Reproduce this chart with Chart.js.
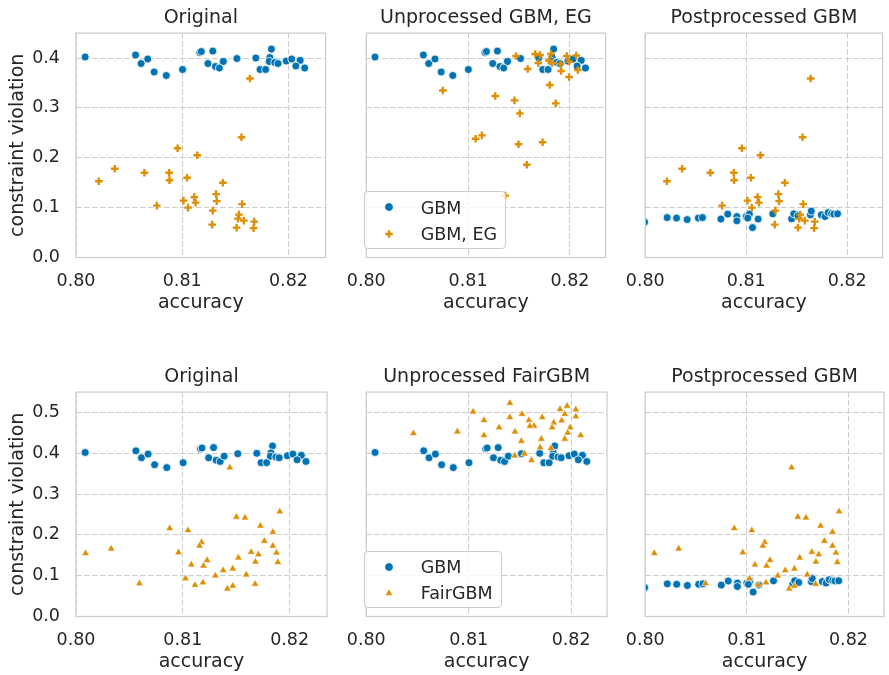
<!DOCTYPE html>
<html>
<head>
<meta charset="utf-8">
<script src="https://cdn.jsdelivr.net/npm/chart.js@4.4.0/dist/chart.umd.min.js"></script>
<style>
  body { margin: 0; width: 889px; height: 675px; overflow: hidden; position: relative; background: #fff; font-family: 'DejaVu Sans', sans-serif; color: #262626; }
  canvas { position: absolute; }
  .legend { position: absolute; box-sizing: border-box; height: 57.6px; border: 1px solid #cccccc; border-radius: 4px; background: rgba(255,255,255,0.8); }
  .legend svg { position: absolute; left: 18.3px; width: 12px; height: 12px; }
  .legend span { position: absolute; left: 55.7px; font-size: 17.5px; line-height: 20px; white-space: nowrap; }
</style>
</head>
<body>
<canvas id="c1" width="332" height="316" style="left:0px;top:0px"></canvas>
<canvas id="c2" width="279" height="316" style="left:333px;top:0px"></canvas>
<canvas id="c3" width="277" height="316" style="left:612px;top:0px"></canvas>
<canvas id="c4" width="332" height="316" style="left:0px;top:359px"></canvas>
<canvas id="c5" width="279" height="316" style="left:333px;top:359px"></canvas>
<canvas id="c6" width="277" height="316" style="left:612px;top:359px"></canvas>

<div class="legend" style="left:364px;top:191.3px;width:142px">
  <svg style="top:9px" viewBox="0 0 12 12"><circle cx="6" cy="6" r="4.3" fill="#0173b2" stroke="#fff" stroke-width="0.8"/></svg>
  <span style="top:5.35px">GBM</span>
  <svg style="top:35.6px" viewBox="0 0 12 12"><path d="M6 2.2V9.8M2.2 6H9.8" stroke="#de8f05" stroke-width="2.4"/></svg>
  <span style="top:31.95px">GBM, EG</span>
</div>
<div class="legend" style="left:364px;top:550.5px;width:138px">
  <svg style="top:9px" viewBox="0 0 12 12"><circle cx="6" cy="6" r="4.3" fill="#0173b2" stroke="#fff" stroke-width="0.8"/></svg>
  <span style="top:5.35px">GBM</span>
  <svg style="top:35.6px" viewBox="0 0 12 12"><polygon points="6,1.8 9.8,8.4 2.2,8.4" fill="#de8f05" stroke="#fff" stroke-width="0.6"/></svg>
  <span style="top:31.95px">FairGBM</span>
</div>

<script>
// tick values
const accTicks = [0.80, 0.81, 0.82];
const violTicksTop = [0.0, 0.1, 0.2, 0.3, 0.4];
const violTicksBottom = [0.0, 0.1, 0.2, 0.3, 0.4, 0.5];

// GBM (unprocessed)
const gbmAcc = [0.80086, 0.80561, 0.80613, 0.80675, 0.80736, 0.8085, 0.81003, 0.81166, 0.8118, 0.81288, 0.81242, 0.81313, 0.8135, 0.81387, 0.81515, 0.81693, 0.81733, 0.81785, 0.8184, 0.81825, 0.8182, 0.81871, 0.81902, 0.81979, 0.82031, 0.8211, 0.8207, 0.82153];
const gbmViol = [0.402, 0.406, 0.389, 0.398, 0.372, 0.365, 0.377, 0.411, 0.413, 0.414, 0.389, 0.383, 0.380, 0.393, 0.399, 0.400, 0.377, 0.377, 0.418, 0.401, 0.393, 0.391, 0.389, 0.394, 0.398, 0.395, 0.384, 0.380];

// GBM, EG as shown in "Original" / postprocessed panels
const egAcc = [0.81638, 0.81558, 0.80957, 0.81141, 0.80365, 0.80215, 0.80644, 0.80877, 0.8088, 0.81046, 0.81383, 0.80761, 0.81012, 0.81055, 0.81113, 0.81126, 0.81319, 0.81325, 0.81288, 0.81282, 0.81564, 0.81525, 0.81534, 0.8158, 0.81512, 0.81678, 0.81672];
const egViol = [0.359, 0.241, 0.219, 0.205, 0.178, 0.153, 0.170, 0.170, 0.155, 0.160, 0.150, 0.104, 0.114, 0.100, 0.121, 0.110, 0.127, 0.113, 0.094, 0.066, 0.107, 0.078, 0.086, 0.074, 0.060, 0.072, 0.059];

// GBM, EG unprocessed
const egRawAcc = [0.80752, 0.81266, 0.81455, 0.81508, 0.81861, 0.81802, 0.81074, 0.81136, 0.81495, 0.81731, 0.81576, 0.81365, 0.81471, 0.81585, 0.81659, 0.81706, 0.8169, 0.81814, 0.81793, 0.81824, 0.81907, 0.81913, 0.81969, 0.81991, 0.82062, 0.82077, 0.81991];
const egRawViol = [0.335, 0.324, 0.315, 0.289, 0.309, 0.346, 0.238, 0.245, 0.227, 0.231, 0.186, 0.124, 0.404, 0.378, 0.408, 0.406, 0.390, 0.408, 0.395, 0.390, 0.388, 0.374, 0.404, 0.393, 0.405, 0.376, 0.362];

// GBM postprocessed
const gbmPostAcc = [0.79994, 0.80217, 0.8031, 0.80415, 0.80526, 0.80567, 0.80749, 0.80817, 0.80907, 0.80907, 0.81, 0.81031, 0.81015, 0.81062, 0.81118, 0.81263, 0.81449, 0.81471, 0.81511, 0.81635, 0.81644, 0.81743, 0.8178, 0.81811, 0.81845, 0.81867, 0.81904];
const gbmPostViol = [0.071, 0.080, 0.079, 0.076, 0.079, 0.080, 0.077, 0.087, 0.082, 0.0735, 0.082, 0.087, 0.079, 0.060, 0.077, 0.0875, 0.0775, 0.0875, 0.0835, 0.0855, 0.093, 0.0855, 0.082, 0.090, 0.088, 0.087, 0.0875];

// FairGBM as shown in "Original" / postprocessed panels
const fairAcc = [0.8144, 0.81908, 0.81502, 0.81582, 0.81726, 0.80877, 0.81049, 0.81843, 0.81175, 0.81157, 0.81763, 0.81843, 0.80089, 0.80329, 0.8096, 0.81877, 0.8164, 0.81708, 0.8168, 0.8189, 0.8152, 0.81228, 0.8108, 0.81194, 0.81468, 0.81378, 0.81305, 0.81594, 0.81025, 0.80594, 0.81114, 0.81188, 0.81418, 0.81468, 0.81677];
const fairViol = [0.365, 0.257, 0.244, 0.242, 0.222, 0.216, 0.211, 0.207, 0.182, 0.173, 0.185, 0.173, 0.155, 0.166, 0.157, 0.156, 0.158, 0.152, 0.134, 0.133, 0.144, 0.138, 0.127, 0.124, 0.117, 0.113, 0.100, 0.1025, 0.093, 0.081, 0.077, 0.083, 0.068, 0.075, 0.0795];

// FairGBM unprocessed
const fairRawAcc = [0.81402, 0.81043, 0.81149, 0.81402, 0.8152, 0.81588, 0.81638, 0.81598, 0.81718, 0.8183, 0.81892, 0.8196, 0.81938, 0.82046, 0.82046, 0.81907, 0.81814, 0.81991, 0.81297, 0.81452, 0.81966, 0.82093, 0.80461, 0.80889, 0.81149, 0.81514, 0.81709, 0.81938, 0.81697, 0.81802, 0.81449, 0.81545, 0.81613];
const fairRawViol = [0.523, 0.502, 0.481, 0.488, 0.496, 0.481, 0.467, 0.467, 0.488, 0.475, 0.508, 0.516, 0.496, 0.507, 0.490, 0.480, 0.463, 0.463, 0.463, 0.453, 0.450, 0.444, 0.449, 0.453, 0.444, 0.430, 0.435, 0.435, 0.414, 0.412, 0.394, 0.399, 0.383];

const BLUE = '#0173b2';
const ORANGE = '#de8f05';
const GRID = '#cccccc';

Chart.defaults.font.family = "'DejaVu Sans', sans-serif";
Chart.defaults.color = '#262626';

const toPoints = (xs, ys) => xs.map((x, i) => ({x: x, y: ys[i]}));

// light grey frame round each axes box
const frame = {
    id: 'frame',
    afterDatasetsDraw(chart) {
        const {ctx, chartArea: a} = chart;
        ctx.save();
        ctx.strokeStyle = GRID;
        ctx.lineWidth = 1.25;
        ctx.strokeRect(a.left, a.top, a.right - a.left, a.bottom - a.top);
        ctx.restore();
    }
};

function makePanel(id, title, blueX, blueY, orX, orY, marker, yMax, yTicks, showY, padL, padR) {
    const orangeSet = {
        data: toPoints(orX, orY),
        order: 0,
        pointStyle: marker,
        backgroundColor: ORANGE,
        borderColor: marker === 'cross' ? ORANGE : '#ffffff',
        borderWidth: marker === 'cross' ? 2.4 : 0.6,
        pointRadius: marker === 'cross' ? 3.8 : 4.4
    };
    const blueSet = {
        data: toPoints(blueX, blueY),
        order: 1,
        pointStyle: 'circle',
        backgroundColor: BLUE,
        borderColor: '#ffffff',
        borderWidth: 0.8,
        pointRadius: 4
    };
    new Chart(document.getElementById(id), {
        type: 'scatter',
        data: {datasets: [blueSet, orangeSet]},
        options: {
            responsive: false,
            animation: false,
            events: [],
            layout: {padding: {left: padL, right: padR, top: 0, bottom: 0}},
            plugins: {
                legend: {display: false},
                tooltip: {enabled: false},
                title: {
                    display: true,
                    text: title,
                    fullSize: false,
                    font: {size: 19, weight: 'normal', lineHeight: 1.2},
                    padding: {top: 6.9, bottom: 3.4}
                }
            },
            scales: {
                x: {
                    type: 'linear',
                    min: 0.80,
                    max: 0.8235,
                    afterBuildTicks: s => { s.ticks = accTicks.map(v => ({value: v})); },
                    afterFit: s => { s.height = 58.5; },
                    ticks: {
                        callback: v => v.toFixed(2),
                        padding: 13.75,
                        font: {size: 17.5},
                        maxRotation: 0,
                        autoSkip: false
                    },
                    grid: {color: GRID, lineWidth: 1, drawTicks: false},
                    border: {display: false, dash: [5.5, 2.5]},
                    title: {
                        display: true,
                        text: 'accuracy',
                        font: {size: 19, lineHeight: 1.2},
                        padding: {top: 0, bottom: 1.3}
                    }
                },
                y: {
                    type: 'linear',
                    min: 0,
                    max: yMax,
                    afterBuildTicks: s => { s.ticks = yTicks.map(v => ({value: v})); },
                    afterFit: s => { s.width = showY ? 76 : 0; },
                    ticks: {
                        display: showY,
                        callback: v => v.toFixed(1),
                        padding: 16,
                        font: {size: 17.5}
                    },
                    grid: {color: GRID, lineWidth: 1, drawTicks: false},
                    border: {display: false, dash: [5.5, 2.5]},
                    title: {
                        display: showY,
                        text: 'constraint violation',
                        font: {size: 19, lineHeight: 1.2},
                        padding: {top: 6.2, bottom: 0}
                    }
                }
            }
        },
        plugins: [frame]
    });
}

makePanel('c1', 'Original', gbmAcc, gbmViol, egAcc, egViol, 'cross', 0.45, violTicksTop, true, 0, 2);
makePanel('c2', 'Unprocessed GBM, EG', gbmAcc, gbmViol, egRawAcc, egRawViol, 'cross', 0.45, violTicksTop, false, 22.5, 2.5);
makePanel('c3', 'Postprocessed GBM', gbmPostAcc, gbmPostViol, egAcc, egViol, 'cross', 0.45, violTicksTop, false, 22.5, 1);
makePanel('c4', 'Original', gbmAcc, gbmViol, fairAcc, fairViol, 'triangle', 0.55, violTicksBottom, true, 0, 2);
makePanel('c5', 'Unprocessed FairGBM', gbmAcc, gbmViol, fairRawAcc, fairRawViol, 'triangle', 0.55, violTicksBottom, false, 22.5, 2.5);
makePanel('c6', 'Postprocessed GBM', gbmPostAcc, gbmPostViol, fairAcc, fairViol, 'triangle', 0.55, violTicksBottom, false, 22.5, 1);
</script>
</body>
</html>
